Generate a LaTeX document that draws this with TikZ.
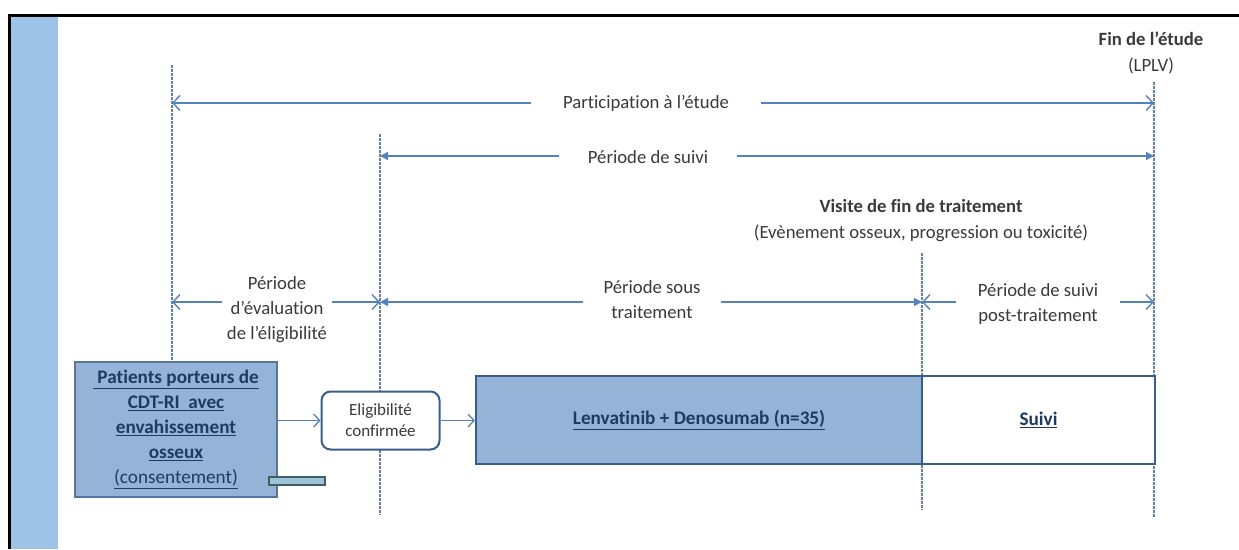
\documentclass[tikz,border=0pt]{standalone}
\usepackage{fontspec}
\setmainfont{Carlito}[Ligatures=NoCommon]
\usetikzlibrary{arrows.meta}
\definecolor{txt}{HTML}{3A3A3A}
\definecolor{navy}{HTML}{1F3A60}
\definecolor{arr}{HTML}{5582BE}
\definecolor{vline}{HTML}{6A7F99}
\definecolor{boxfill}{HTML}{95B3D7}
\definecolor{boxdraw}{HTML}{3A5D8C}
\definecolor{strip}{HTML}{9DC3E6}
\definecolor{tabfill}{HTML}{9DC3D9}
\definecolor{tabdraw}{HTML}{3F5F60}
\tikzset{
  vdash/.style={draw=vline,line width=1.1pt,dash pattern=on 2.5pt off 1.5pt},
  openarr/.style={draw=arr,line width=1.6pt,{Straight Barb[length=7pt,width=15pt,line width=1.4pt]}-{Straight Barb[length=7pt,width=15pt,line width=1.4pt]}},
  fillarr/.style={draw=arr,line width=1.6pt,{Triangle[length=8pt,width=8pt]}-{Triangle[length=8pt,width=8pt]}},
  flowarr/.style={draw=arr,line width=1.4pt,-{Straight Barb[length=6pt,width=13pt,line width=1.3pt]}},
  lbl/.style={fill=white,text=txt,inner ysep=1pt,font=\fontsize{18.7}{25}\selectfont,align=center},
  plain/.style={text=txt,font=\fontsize{18.7}{26}\selectfont,align=center},
  bluebox/.style={draw=boxdraw,fill=boxfill,line width=2.2pt,text=navy,align=center,inner sep=0pt},
}
\begin{document}
\begin{tikzpicture}[x=1pt,y=-1pt]
\useasboundingbox (0,0) rectangle (1239,549);
% frame and strip
\fill[strip] (10.5,16.5) rectangle (58,549);
\draw[line width=3pt] (9,549) -- (9,15) -- (1239,15);
% vertical dashed lines
\coordinate (v1t) at (172,65);   \coordinate (v1b) at (172,362);
\coordinate (v2t) at (380,134);  \coordinate (v2b) at (380,515);
\coordinate (v3t) at (922,253);  \coordinate (v3b) at (922,510);
\coordinate (v4t) at (1154,82);  \coordinate (v4b) at (1154,517);
\draw[vdash] (v1t) -- (v1b);
\draw[vdash] (v2t) -- (v2b);
\draw[vdash] (v3t) -- (v3b);
\draw[vdash] (v4t) -- (v4b);
% period arrows
\coordinate (pa1) at (172,103);  \coordinate (pa2) at (1154,103);
\coordinate (ps1) at (380,156);  \coordinate (ps2) at (1154,156);
\coordinate (e1) at (172,302);   \coordinate (e2) at (380,302);
\coordinate (t1) at (380,302);   \coordinate (t2) at (922,302);
\coordinate (f1) at (922,302);   \coordinate (f2) at (1154,302);
\draw[openarr] (pa1) -- (pa2);
\draw[fillarr] (ps1) -- (ps2);
\draw[openarr] (e1) -- (e2);
\draw[fillarr] (t1) -- (t2);
\draw[openarr] (f1) -- (f2);
% labels
\node[lbl,inner xsep=32pt] (lpart) at (646,103) {Participation à l’étude};
\node[lbl,inner xsep=29pt] (lsuiv) at (648,157) {Période de suivi};
\node[lbl,inner xsep=5pt] (leval) at (277,310) {Période\\d’évaluation\\de l’éligibilité};
\node[lbl,inner xsep=21pt] (lsous) at (652,300) {Période sous\\traitement};
\node[lbl,inner xsep=22pt] (lpost) at (1038,304) {Période de suivi\\post-traitement};
\node[plain] (visite) at (921,221) {\textbf{Visite de fin de traitement}\\(Evènement osseux, progression ou toxicité)};
\node[plain] (fin) at (1151,53) {\textbf{Fin de l’étude}\\(LPLV)};
% boxes
\node[bluebox,minimum width=202pt,minimum height=135pt,font=\fontsize{19.2}{25}\selectfont\bfseries,line width=1.8pt,draw=boxdraw!85!white] (pat) at (176,429.5)
  {\underline{\ Patients porteurs de}\\\underline{CDT-RI\ \ avec}\\\underline{envahissement}\\\underline{osseux}\\\mdseries\underline{(consentement)}};
\node[draw=tabdraw,fill=tabfill,line width=2pt,minimum width=56pt,minimum height=8pt,inner sep=0pt] (tab) at (297,480.5) {};
\node[draw=boxdraw,fill=white,rounded corners=9pt,line width=2pt,minimum width=118pt,minimum height=58pt,text=txt,align=center,inner sep=0pt,font=\fontsize{17}{21}\selectfont] (elig) at (380.5,420.5) {Eligibilité\\confirmée};
\node[bluebox,minimum width=446pt,minimum height=88pt,font=\fontsize{19.2}{25}\selectfont\bfseries] (lenv) at (699,420) {\underline{Lenvatinib + Denosumab (n=35)}};
\node[bluebox,fill=white,minimum width=233pt,minimum height=88pt,font=\fontsize{19.2}{25}\selectfont\bfseries] (suivi) at (1038.5,420) {\underline{Suivi}};
% flow arrows
\draw[flowarr] (pat.east |- elig.west) -- (elig.west);
\draw[flowarr] (elig.east) -- (lenv.west |- elig.east);
\end{tikzpicture}
\end{document}
